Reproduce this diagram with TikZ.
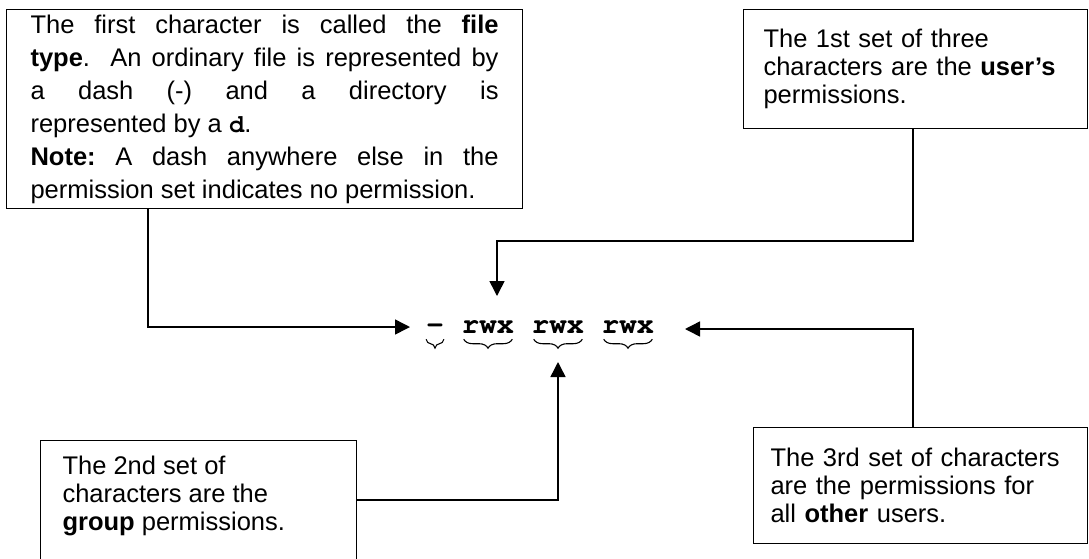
\documentclass[tikz,border=0pt]{standalone}
\usepackage{fontspec}
\setmainfont{Liberation Sans}
\newcommand\cour{\fontencoding{T1}\fontfamily{pcr}\fontseries{b}\selectfont}
\usetikzlibrary{arrows.meta,decorations.pathreplacing}
\begin{document}
\begin{tikzpicture}[x=1pt,y=-1pt,
  box/.style={draw, line width=1.1pt, anchor=north west, inner ysep=0pt, align=left,
    font=\fontsize{25.5}{28}\selectfont},
  conn/.style={line width=1.5pt, -{Triangle[length=15pt,width=15pt]}},
  perm/.style={font=\cour\fontsize{29}{29}\selectfont, inner sep=0pt, anchor=base},
  brc/.style={decorate, decoration={brace, mirror, amplitude=9pt}, line width=1.1pt}]
\useasboundingbox (0,0) rectangle (1089,558);

\node[box, text width=468pt, inner xsep=24pt, minimum height=199pt, align=justify,
      font=\fontsize{25.5}{33}\selectfont] (ft) at (6,9)
  {\hyphenpenalty10000 \exhyphenpenalty10000 \frenchspacing
   The first character is called the \textbf{file}\linebreak
   \textbf{type}.\ \ An ordinary file is represented by\linebreak
   a dash (-) and a directory is\linebreak
   represented by a {\cour d}.\\
   \textbf{Note:} A dash anywhere else in the\linebreak
   permission set indicates no permission.};

\node[box, text width=304pt, inner xsep=20pt, minimum height=119pt] (usr) at (743,9)
  {The 1st set of three\\characters are the \textbf{user’s}\\permissions.};

\node[box, inner xsep=22pt] (grp) at (40,440)
  {\begin{minipage}[t][140pt][t]{272pt}\vspace*{15pt}\raggedright
   The 2nd set of\\characters are the\\\textbf{group} permissions.\end{minipage}};

\node[box, text width=300pt, inner xsep=17pt, minimum height=116pt] (oth) at (753,427)
  {The 3rd set of characters\\are the permissions for\\all \textbf{other} users.};

\node[perm] (dash) at (435,333) {-};
\node[perm] (u) at (488,333) {rwx};
\node[perm] (g) at (558,333) {rwx};
\node[perm] (o) at (628,333) {rwx};

\draw[brc] ([xshift=0pt,yshift=-6pt]dash.south west) -- ([xshift=0pt,yshift=-6pt]dash.south east);
\draw[brc] ([xshift=2pt,yshift=-6pt]u.south west) -- ([xshift=-2pt,yshift=-6pt]u.south east);
\draw[brc] ([xshift=2pt,yshift=-6pt]g.south west) -- ([xshift=-2pt,yshift=-6pt]g.south east);
\draw[brc] ([xshift=2pt,yshift=-6pt]o.south west) -- ([xshift=-2pt,yshift=-6pt]o.south east);

\coordinate (a1) at (410,327);
\coordinate (a2) at (497,296);
\coordinate (a3) at (558,362);
\coordinate (a4) at (685,329);

\draw[conn] ([xshift=142pt]ft.south west) |- (a1);
\draw[conn] ([xshift=170pt]usr.south west) -- ++(0,112) -| (a2);
\draw[conn] ([yshift=-60pt]grp.north east) -| (a3);
\draw[conn] ([xshift=160pt]oth.north west) |- (a4);
\end{tikzpicture}
\end{document}
